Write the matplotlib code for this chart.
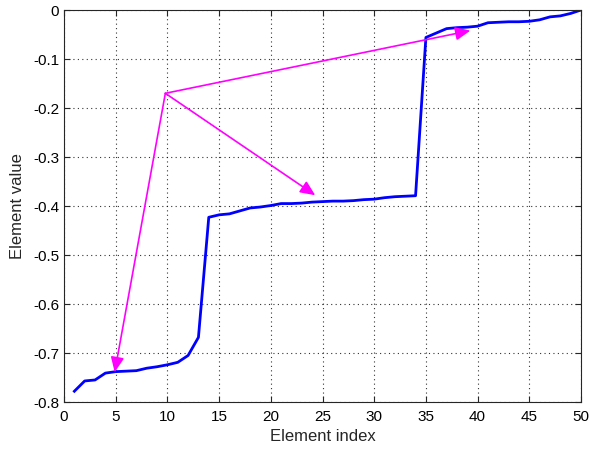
import matplotlib
matplotlib.use("Agg")
import matplotlib.pyplot as plt
import numpy as np

plt.rcParams['font.family'] = ['Liberation Sans', 'DejaVu Sans']

index = np.arange(1, 51)
values = [-0.778, -0.757, -0.755, -0.741, -0.738, -0.737, -0.736, -0.731, -0.728, -0.724,
          -0.719, -0.705, -0.668, -0.423, -0.418, -0.416, -0.410, -0.404, -0.402, -0.399,
          -0.395, -0.395, -0.394, -0.392, -0.391, -0.390, -0.390, -0.389, -0.387, -0.386,
          -0.383, -0.381, -0.380, -0.379, -0.056, -0.047, -0.038, -0.036, -0.035, -0.033,
          -0.026, -0.025, -0.024, -0.024, -0.023, -0.020, -0.014, -0.012, -0.007, 0.000]

arrow_start = (9.8, -0.17)
arrow_ends = [(4.9, -0.739), (24.3, -0.378), (39.3, -0.042)]

xticks = list(range(0, 51, 5))
yticks = [-0.8, -0.7, -0.6, -0.5, -0.4, -0.3, -0.2, -0.1, 0]
yticklabels = ['-0.8', '-0.7', '-0.6', '-0.5', '-0.4', '-0.3', '-0.2', '-0.1', '0']

fig = plt.figure(figsize=(5.89, 4.51), dpi=100)
ax = fig.add_axes([0.1087, 0.1086, 0.8777, 0.8692])
ax.plot(index, values, color='#0000ff', linewidth=2)

for end in arrow_ends:
    ax.annotate('', xy=end, xytext=arrow_start,
                arrowprops=dict(arrowstyle='-|>,head_length=0.9,head_width=0.4',
                                color='#ff00ff', lw=1.2, shrinkA=0, shrinkB=0))

ax.set_xlim(0, 50)
ax.set_ylim(-0.8, 0)
ax.set_xticks(xticks)
ax.set_yticks(yticks)
ax.set_yticklabels(yticklabels)
ax.grid(True, color='black', linestyle=(0, (1, 3)), linewidth=0.8, alpha=0.8)
ax.tick_params(direction='in', top=True, right=True, labelsize=11, length=4, color='#262626')
ax.tick_params(axis='x', pad=6)
for s in ax.spines.values():
    s.set_color('#262626')
    s.set_linewidth(0.8)
ax.set_xlabel('Element index', fontsize=12, color='#262626', labelpad=3)
ax.set_ylabel('Element value', fontsize=12, color='#262626', labelpad=6)
fig.savefig('out.png', dpi=100)
